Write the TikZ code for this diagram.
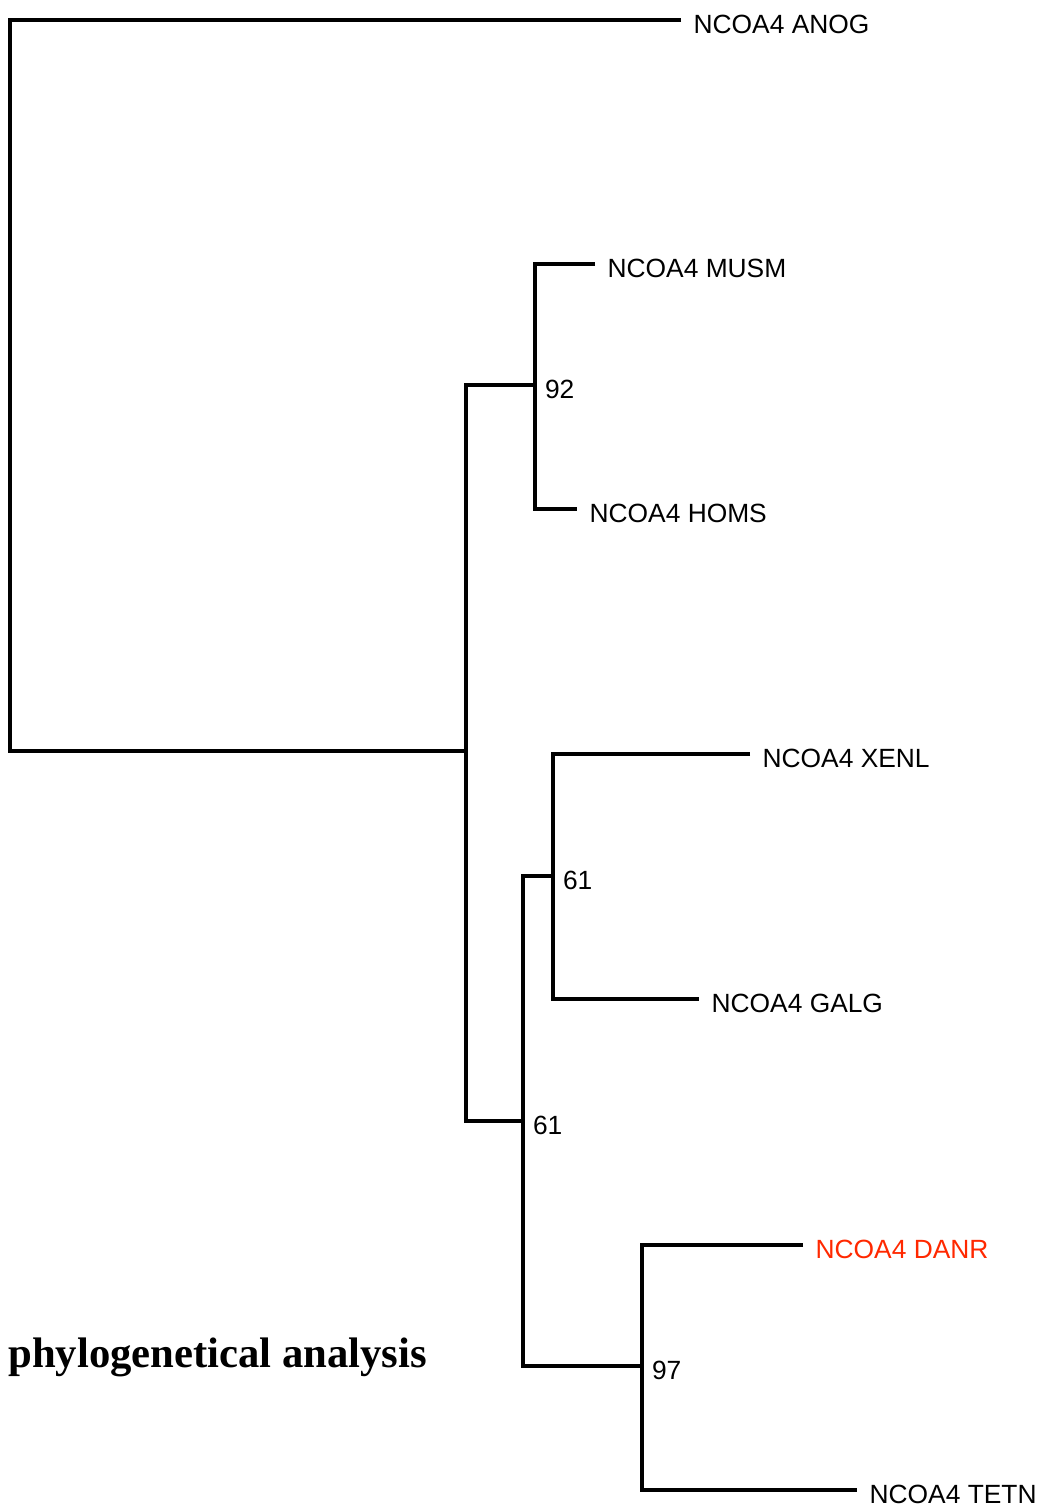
\documentclass[tikz,border=0pt]{standalone}
\usepackage{fontspec}
\setmainfont{Liberation Serif}
\newfontfamily\leaffont{Liberation Sans}
\usepackage{tikz}
\usetikzlibrary{positioning}
\usepackage{xcolor}
\definecolor{danrred}{RGB}{255,40,0}

\begin{document}
\begin{tikzpicture}[x=0.02cm,y=-0.02cm,
  branch/.style={line width=2.3pt},
  leaf/.style={anchor=west,inner xsep=7pt,inner ysep=0pt,text height=15pt,text depth=0pt,font=\leaffont\fontsize{15}{15}\selectfont},
  boot/.style={anchor=west,inner xsep=5.5pt,inner ysep=0pt,text height=15pt,text depth=0pt,font=\leaffont\fontsize{15}{15}\selectfont}]
\useasboundingbox (0,0) rectangle (1043,1506);
% internal nodes
\coordinate (root) at (10,751);
\coordinate (n1) at (466,751);
\coordinate (n92) at (535,385);
\coordinate (n61a) at (523,1121);
\coordinate (n61b) at (553,876);
\coordinate (n97) at (642,1366);
% leaves
\node[leaf] (anog) at (681,20) {NCOA4 ANOG};
\node[leaf] (musm) at (595,264) {NCOA4 MUSM};
\node[leaf] (homs) at (577,509) {NCOA4 HOMS};
\node[leaf] (xenl) at (750,754) {NCOA4 XENL};
\node[leaf] (galg) at (699,999) {NCOA4 GALG};
\node[leaf,text=danrred] (danr) at (803,1245) {NCOA4 DANR};
\node[leaf] (tetn) at (857,1490) {NCOA4 TETN};
% branches
\draw[branch] (anog.west) -| (root) -- (n1);
\draw[branch] (n92) -| (n1) |- (n61a);
\draw[branch] (musm.west) -| (n92) |- (homs.west);
\draw[branch] (n61b) -| (n61a) |- (n97);
\draw[branch] (xenl.west) -| (n61b) |- (galg.west);
\draw[branch] (danr.west) -| (n97) |- (tetn.west);
% bootstrap values
\node[boot] (b92) at (n92) {92};
\node[boot] (b61a) at (n61a) {61};
\node[boot] (b61b) at (n61b) {61};
\node[boot] (b97) at (n97) {97};
\node[anchor=west,inner sep=0pt,font=\bfseries\fontsize{24.3}{24}\selectfont] (title) at (8,1357) {phylogenetical analysis};
\end{tikzpicture}
\end{document}
